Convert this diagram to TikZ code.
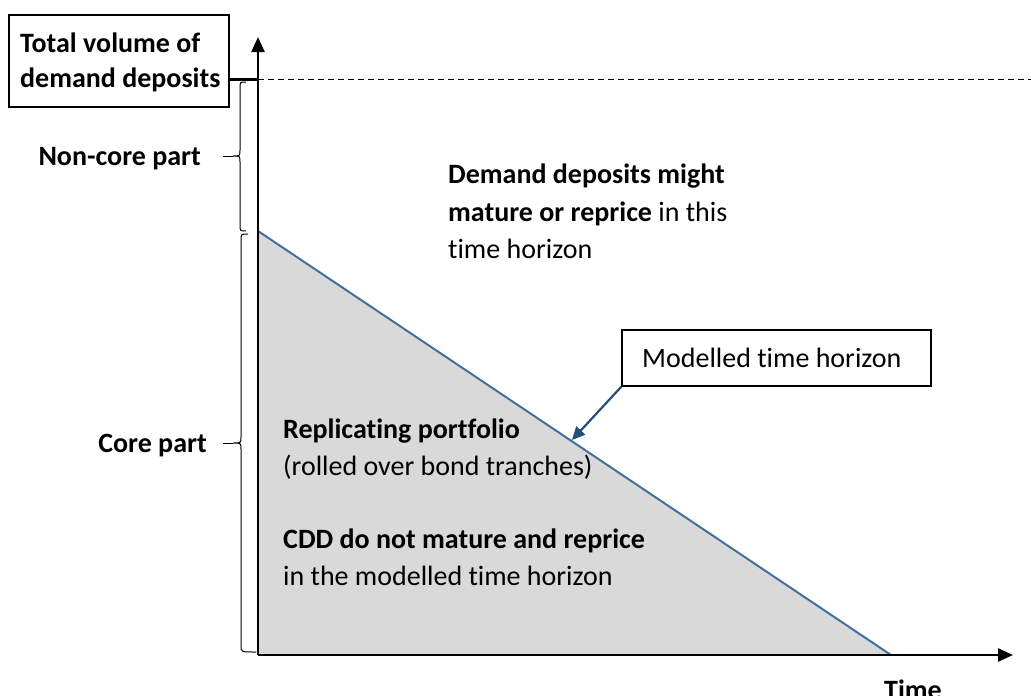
\documentclass[tikz,border=0pt]{standalone}
\usepackage{fontspec}
\setmainfont{Carlito}[Ligatures=NoCommon]
\usetikzlibrary{arrows.meta}
\definecolor{hyp}{RGB}{65,112,160}
\definecolor{arr}{RGB}{37,79,123}
\definecolor{fillgray}{RGB}{217,217,217}
\tikzset{
  txt/.style={anchor=base west, inner sep=0pt, font=\fontsize{28}{37}\selectfont},
  txtr/.style={anchor=base east, inner sep=0pt, font=\fontsize{28}{37}\selectfont\bfseries},
  axis/.style={line width=2.4pt, -{Triangle[length=15pt,width=13pt]}},
  bracepath/.style={line width=1pt},
  labbox/.style={draw, line width=1.3pt, inner sep=0pt}
}
\begin{document}
\begin{tikzpicture}[x=1pt,y=-1pt]
\useasboundingbox (0,0) rectangle (1031,696);
% coordinates
\coordinate (O) at (258,655);
\coordinate (Ytop) at (258,37);
\coordinate (Xend) at (1013,655);
\coordinate (A) at (258,231);
\coordinate (B) at (891,655);
\coordinate (T) at (258,79);
\coordinate (Tend) at (1031,79);
% shaded triangle
\fill[fillgray] (A) -- (O) -- (B) -- cycle;
\draw[hyp, line width=2pt] (A) -- (B);
% dashed total line
\draw[dashed, line width=0.9pt, dash pattern=on 6pt off 4pt] (T) -- (Tend);
% total volume box
\node[labbox, minimum width=220pt, minimum height=92pt] (tot) at (119,61) {};
\node[txt, font=\fontsize{28}{37}\selectfont\bfseries] (tot1) at (20,52) {Total volume of};
\node[txt, font=\fontsize{28}{37}\selectfont\bfseries] (tot2) at (20,87) {demand deposits};
\draw[line width=3pt] (tot.east |- T) -- (T);
% axes
\draw[axis] (O) -- (Ytop);
\draw[axis] (O) -- (Xend);
% braces
\draw[bracepath] (246,82) .. controls (240,82) .. (240,88) -- (240,150) .. controls (240,156) .. (233,156) .. controls (240,156) .. (240,162) -- (240,225) .. controls (240,231) .. (246,231);
\draw[bracepath] (223,156) -- (233,156);
\draw[bracepath] (248,234) .. controls (241,234) .. (241,240) -- (241,437) .. controls (241,443) .. (233,443) .. controls (241,443) .. (241,449) -- (241,646) .. controls (241,652) .. (256,652);
\draw[bracepath] (223,443) -- (233,443);
% side labels
\node[txtr] (noncore) at (201,165) {Non-core part};
\node[txtr] (core) at (207,452) {Core part};
% middle text
\node[txt] (d1) at (448,183) {\bfseries Demand deposits might};
\node[txt] (d2) at (448,221) {\textbf{mature or reprice} in this};
\node[txt] (d3) at (448,258) {time horizon};
% lower text
\node[txt] (r1) at (283,438) {\bfseries Replicating portfolio};
\node[txt] (r2) at (283,475) {(rolled over bond tranches)};
\node[txt] (c1) at (283,548) {\bfseries CDD do not mature and reprice};
\node[txt] (c2) at (283,585) {in the modelled time horizon};
% modelled time horizon box
\node[labbox, minimum width=309pt, minimum height=56pt] (mth) at (776.5,358) {};
\node[txt] (mtht) at (642,367) {Modelled time horizon};
\coordinate (hit) at (572,440);
\draw[arr, line width=2.2pt, -{Triangle[length=13pt,width=12pt]}] (mth.south west) -- (hit);
% time label
\node[anchor=base, inner sep=0pt, font=\fontsize{28}{37}\selectfont\bfseries] (time) at (913,699) {Time};
\end{tikzpicture}
\end{document}
